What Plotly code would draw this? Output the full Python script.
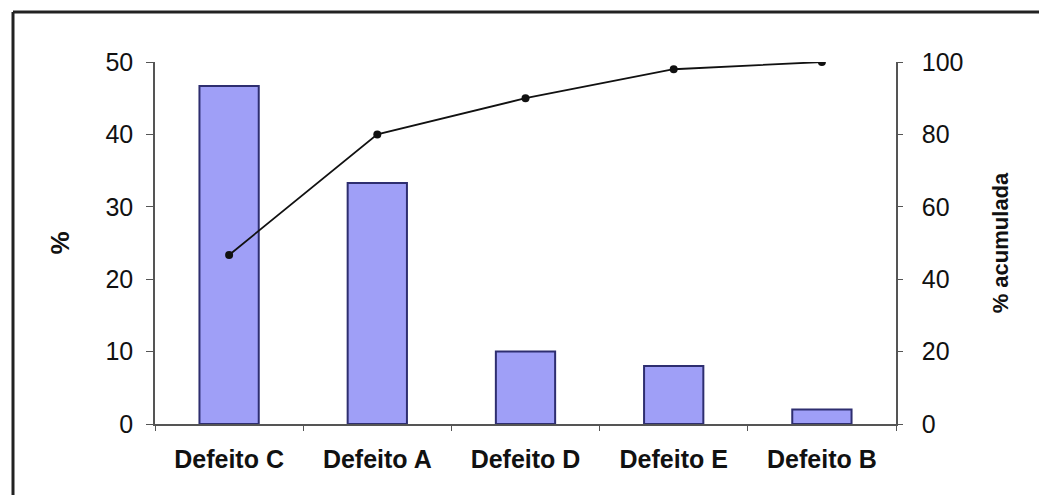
import plotly.graph_objects as go

# Pareto data: share of each defect type and running cumulative share
categories = ["Defeito C", "Defeito A", "Defeito D", "Defeito E", "Defeito B"]
percent = [46.7, 33.3, 10.0, 8.0, 2.0]
cumulative = [46.7, 80.0, 90.0, 98.0, 100.0]

left_ticks = [0, 10, 20, 30, 40, 50]
right_ticks = [0, 20, 40, 60, 80, 100]

axis_color = "#555555"
font_family = "Liberation Sans, Arial, sans-serif"

fig = go.Figure()

fig.add_trace(go.Bar(
    x=categories,
    y=percent,
    width=0.4,
    marker=dict(color="#9f9ff7", line=dict(color="#2e2e70", width=2)),
    yaxis="y",
    showlegend=False,
))

fig.add_trace(go.Scatter(
    x=categories,
    y=cumulative,
    mode="lines+markers",
    line=dict(color="#111111", width=1.8),
    marker=dict(color="#111111", size=8),
    yaxis="y2",
    showlegend=False,
))

fig.update_layout(
    width=1039,
    height=495,
    margin=dict(l=155, r=143, t=62, b=71),
    paper_bgcolor="white",
    plot_bgcolor="white",
    font=dict(family=font_family, color="#111111"),
    xaxis=dict(
        showgrid=False,
        showline=True,
        linecolor=axis_color,
        linewidth=1.5,
        ticks="outside",
        tickson="boundaries",
        ticklen=5,
        tickcolor=axis_color,
        ticklabelstandoff=12,
        tickfont=dict(size=25, family=font_family, weight="bold"),
        range=[-0.5, 4.5],
    ),
    yaxis=dict(
        range=[0, 50],
        tickvals=left_ticks,
        showgrid=False,
        zeroline=False,
        showline=True,
        linecolor=axis_color,
        linewidth=1.5,
        ticks="outside",
        ticklen=7,
        tickcolor=axis_color,
        ticklabelstandoff=8,
        tickfont=dict(size=25),
        title=dict(text="%", font=dict(size=26, weight="bold"), standoff=28),
    ),
    yaxis2=dict(
        range=[0, 100],
        tickvals=right_ticks,
        overlaying="y",
        side="right",
        showgrid=False,
        zeroline=False,
        showline=True,
        linecolor=axis_color,
        linewidth=1.5,
        ticks="outside",
        ticklen=5,
        tickcolor=axis_color,
        ticklabelstandoff=14,
        tickfont=dict(size=25),
        title=dict(text="% acumulada", font=dict(size=22, weight="bold"), standoff=30),
    ),
    shapes=[
        # outer frame (left and top edges)
        dict(type="line", xref="paper", yref="paper",
             x0=-142 / 741, x1=-142 / 741, y0=-71 / 362, y1=1 + 50 / 362,
             line=dict(color="#222222", width=3)),
        dict(type="line", xref="paper", yref="paper",
             x0=-142 / 741, x1=1 + 143 / 741, y0=1 + 50 / 362, y1=1 + 50 / 362,
             line=dict(color="#222222", width=3)),
    ],
)

fig.write_html("out.html")
